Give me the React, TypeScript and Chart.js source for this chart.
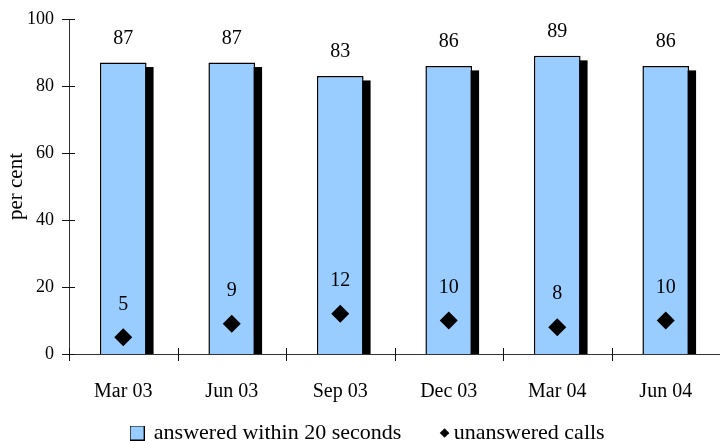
import React, { useEffect, useRef } from 'react';
import { Chart, registerables } from 'chart.js';

Chart.register(...registerables);

const categories = ['Mar 03', 'Jun 03', 'Sep 03', 'Dec 03', 'Mar 04', 'Jun 04'];
const answeredWithin20s = [87, 87, 83, 86, 89, 86];
const unansweredCalls = [5, 9, 12, 10, 8, 10];
const yTickValues = [0, 20, 40, 60, 80, 100];
const seriesNames = ['answered within 20 seconds', 'unanswered calls'];
const yAxisTitle = 'per cent';

const FONT = '"Liberation Serif", "Times New Roman", serif';
const BAR_BLUE = '#99CCFF';
const AXIS_COLOR = '#333';

const shadowPlugin = {
  id: 'barShadow',
  beforeDatasetsDraw(chart: any) {
    const ctx = chart.ctx;
    const meta = chart.getDatasetMeta(0);
    ctx.save();
    ctx.fillStyle = '#000';
    meta.data.forEach((el: any) => {
      const { x, y, base, width } = el.getProps(['x', 'y', 'base', 'width'], true);
      ctx.fillRect(x - width / 2 + 7, y + 4.5, width, base - y - 4.5);
    });
    ctx.restore();
  },
};

const axisTicksPlugin = {
  id: 'crossTicks',
  afterDatasetsDraw(chart: any) {
    const ctx = chart.ctx;
    const { x: xs, y: ys } = chart.scales;
    const area = chart.chartArea;
    ctx.save();
    ctx.strokeStyle = '#111';
    ctx.lineWidth = 1;
    ctx.beginPath();
    yTickValues.forEach((v) => {
      const py = Math.round(ys.getPixelForValue(v)) + 0.5;
      ctx.moveTo(area.left - 7, py);
      ctx.lineTo(area.left + 6, py);
    });
    for (let i = 0; i <= categories.length; i++) {
      const px = Math.round(xs.getPixelForValue(i - 0.5)) + 0.5;
      ctx.moveTo(px, area.bottom - 6);
      ctx.lineTo(px, area.bottom + 7);
    }
    ctx.stroke();
    ctx.restore();
  },
};

const valueLabelsPlugin = {
  id: 'valueLabels',
  afterDatasetsDraw(chart: any) {
    const ctx = chart.ctx;
    ctx.save();
    ctx.font = `20px ${FONT}`;
    ctx.fillStyle = '#000';
    ctx.textAlign = 'center';
    ctx.textBaseline = 'middle';
    chart.getDatasetMeta(0).data.forEach((el: any, i: number) => {
      ctx.fillText(String(answeredWithin20s[i]), el.x, el.y - 24);
    });
    chart.getDatasetMeta(1).data.forEach((el: any, i: number) => {
      ctx.fillText(String(unansweredCalls[i]), el.x, el.y - 33);
    });
    ctx.restore();
  },
};

const layoutTweakPlugin = {
  id: 'layoutTweak',
  afterLayout(chart: any) {
    if (chart.legend) {
      chart.legend.left += 8;
      chart.legend.right += 8;
    }
    if (chart.scales.x) {
      chart.scales.x.bottom += 20;
    }
  },
};

function makeBoxIcon() {
  const c = document.createElement('canvas');
  c.width = 15;
  c.height = 15;
  const g = c.getContext('2d')!;
  g.fillStyle = '#000';
  g.fillRect(0, 0, 15, 15);
  g.fillStyle = BAR_BLUE;
  g.fillRect(1, 1, 13, 13);
  return c;
}

function makeDiamondIcon() {
  const c = document.createElement('canvas');
  c.width = 24;
  c.height = 12;
  const g = c.getContext('2d')!;
  g.fillStyle = '#000';
  const cx = 19.5, cy = 6, r = 4.8;
  g.beginPath();
  g.moveTo(cx - r, cy);
  g.lineTo(cx, cy - r);
  g.lineTo(cx + r, cy);
  g.lineTo(cx, cy + r);
  g.closePath();
  g.fill();
  return c;
}

export default function App() {
  const canvasRef = useRef<HTMLCanvasElement | null>(null);

  useEffect(() => {
    document.body.style.margin = '0';
    const canvas = canvasRef.current;
    if (!canvas) return;
    const boxIcon = makeBoxIcon();
    const diamondIcon = makeDiamondIcon();
    let alive = true;

    const chart = new Chart(canvas, {
      type: 'bar',
      data: {
        labels: categories,
        datasets: [
          {
            type: 'bar',
            label: seriesNames[0],
            data: answeredWithin20s,
            backgroundColor: BAR_BLUE,
            borderColor: '#000',
            borderWidth: 1.5,
            barPercentage: 0.43,
            categoryPercentage: 1,
            order: 2,
          } as any,
          {
            type: 'line',
            label: seriesNames[1],
            data: unansweredCalls,
            showLine: false,
            pointStyle: 'rectRot',
            pointRadius: 9,
            pointHoverRadius: 9,
            pointBackgroundColor: '#000',
            pointBorderColor: '#000',
            pointBorderWidth: 0,
            backgroundColor: '#000',
            borderColor: '#000',
            clip: false,
            order: 1,
          } as any,
        ],
      },
      options: {
        responsive: false,
        animation: false,
        devicePixelRatio: 1,
        layout: { autoPadding: false, padding: { top: 19, right: 0, left: 0, bottom: -13 } },
        plugins: {
          tooltip: { enabled: false },
          legend: {
            position: 'bottom',
            labels: {
              usePointStyle: true,
              pointStyleWidth: 11.5,
              padding: 30,
              color: '#000',
              font: { family: FONT, size: 22 },
              generateLabels: (ch: any) => {
                const items = (Chart.defaults.plugins.legend.labels as any).generateLabels(ch);
                return items
                  .slice()
                  .sort((a: any, b: any) => a.datasetIndex - b.datasetIndex)
                  .map((it: any) => ({
                    ...it,
                    pointStyle: it.datasetIndex === 0 ? boxIcon : diamondIcon,
                    fontColor: '#000',
                  }));
              },
            },
          },
        },
        scales: {
          x: {
            type: 'category',
            offset: true,
            grid: { display: false, drawTicks: false },
            border: { display: true, color: AXIS_COLOR, width: 1 },
            ticks: { color: '#000', font: { family: FONT, size: 20 }, padding: 26, maxRotation: 0 },
            afterFit: (scale: any) => {
              scale.height = 38;
              scale.paddingLeft = 0;
              scale.paddingRight = 0;
            },
          },
          y: {
            min: 0,
            max: 100,
            afterBuildTicks: (scale: any) => {
              scale.ticks = yTickValues.map((v) => ({ value: v }));
            },
            grid: { display: false, drawTicks: false },
            border: { display: true, color: AXIS_COLOR, width: 1 },
            ticks: { color: '#000', font: { family: FONT, size: 18 }, padding: 15 },
            title: {
              display: true,
              text: yAxisTitle,
              color: '#000',
              font: { family: FONT, size: 21 },
              padding: { top: 4, bottom: 0 },
            },
            afterFit: (scale: any) => {
              scale.width = 69;
              scale.paddingTop = 8;
              scale.paddingBottom = 8;
            },
          },
        },
      },
      plugins: [shadowPlugin, axisTicksPlugin, valueLabelsPlugin, layoutTweakPlugin],
    });

    const fonts: any = (document as any).fonts;
    if (fonts && fonts.load) {
      Promise.all([
        fonts.load(`20px ${FONT}`),
        fonts.load(`18px ${FONT}`),
        fonts.load(`22px ${FONT}`),
      ])
        .then(() => {
          if (alive) chart.update();
        })
        .catch(() => {});
    }

    return () => {
      alive = false;
      chart.destroy();
    };
  }, []);

  return (
    <div style={{ width: 720, height: 441 }}>
      <canvas ref={canvasRef} width={720} height={441} style={{ display: 'block' }} />
    </div>
  );
}
